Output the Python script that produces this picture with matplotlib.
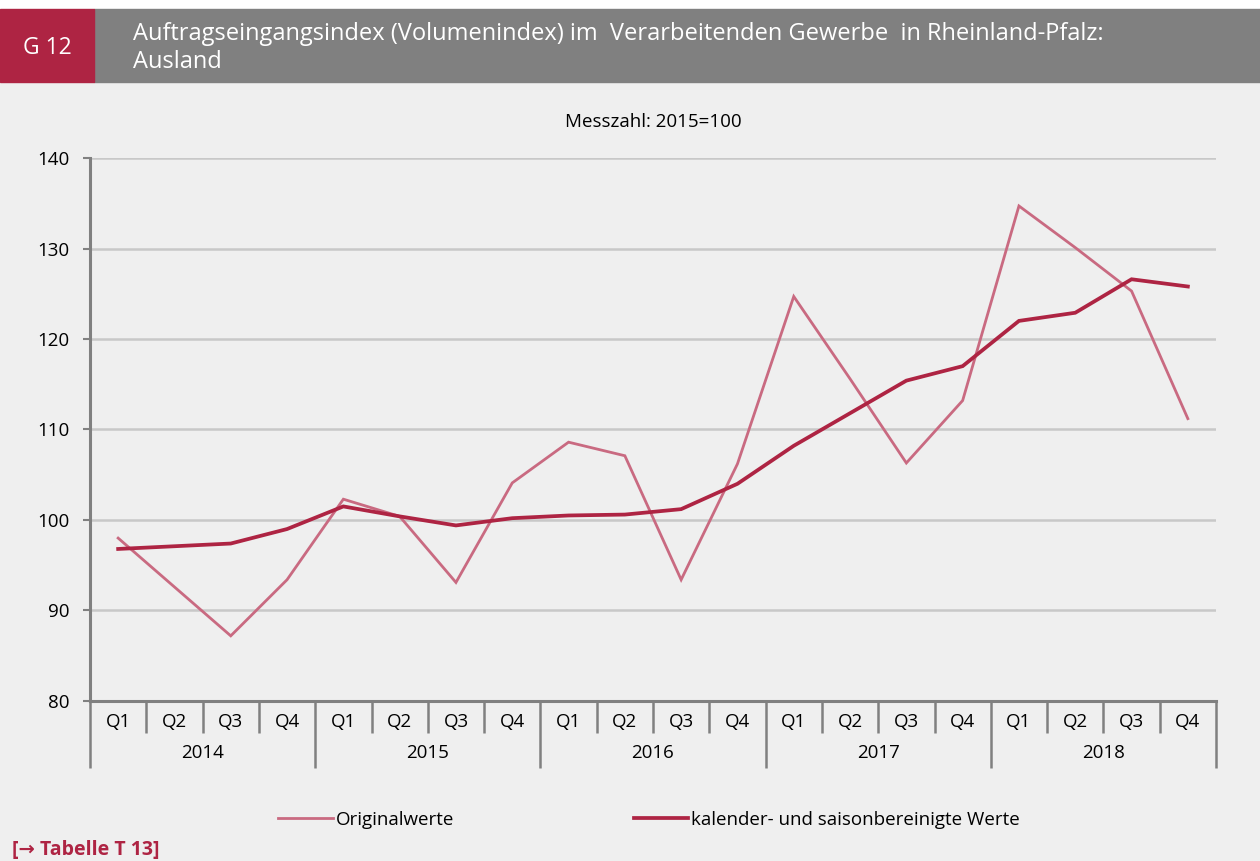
import numpy as np
import matplotlib.pyplot as plt
from matplotlib.lines import Line2D
from matplotlib.patches import Rectangle

plt.rcParams['font.family'] = ['Open Sans', 'DejaVu Sans']

# Daten (Messzahl 2015=100)
jahre = ['2014', '2015', '2016', '2017', '2018']
quartale = ['Q1', 'Q2', 'Q3', 'Q4']
originalwerte = [98.0, 92.6, 87.2, 93.4,
                 102.3, 100.4, 93.1, 104.1,
                 108.6, 107.1, 93.4, 106.2,
                 124.7, 115.6, 106.3, 113.2,
                 134.7, 130.1, 125.3, 111.2]
bereinigt = [96.8, 97.1, 97.4, 99.0,
             101.5, 100.4, 99.4, 100.2,
             100.5, 100.6, 101.2, 104.0,
             108.2, 111.8, 115.4, 117.0,
             122.0, 122.9, 126.6, 125.8]

rot = '#ae2443'
rosa = '#c96a81'
grau = '#808080'
hg = '#efefef'

fig = plt.figure(figsize=(12.6, 8.61), dpi=100, facecolor=hg)

# Kopfzeile
fig.patches.append(Rectangle((0, 1 - 9 / 861), 1, 9 / 861, transform=fig.transFigure,
                             color='white', zorder=0))
fig.patches.append(Rectangle((94 / 1260, 1 - 82 / 861), 1 - 94 / 1260, 73 / 861,
                             transform=fig.transFigure, color=grau, zorder=0))
fig.patches.append(Rectangle((0, 1 - 82 / 861), 94 / 1260, 73 / 861,
                             transform=fig.transFigure, color=rot, zorder=0))
fig.text(47 / 1260, 1 - 48 / 861, 'G 12', color='white', fontsize=16.5,
         ha='center', va='center')
fig.text(133 / 1260, 1 - 48 / 861,
         'Auftragseingangsindex (Volumenindex) im  Verarbeitenden Gewerbe  in Rheinland-Pfalz:\nAusland',
         color='white', fontsize=17, ha='left', va='center', linespacing=1.2)
fig.text(653 / 1260, 1 - 122 / 861, 'Messzahl: 2015=100', fontsize=13.5,
         ha='center', va='center')

ax = fig.add_axes([90 / 1260, 1 - 701 / 861, 1126 / 1260, 543 / 861])
ax.set_facecolor(hg)

x = np.arange(len(originalwerte))
ax.plot(x, originalwerte, color=rosa, lw=2.0, solid_joinstyle='miter', zorder=3)
ax.plot(x, bereinigt, color=rot, lw=2.7, solid_joinstyle='miter', zorder=4)

ax.set_xlim(-0.5, len(x) - 0.5)
ax.set_ylim(80, 140)
ax.set_yticks(np.arange(80, 141, 10))
ax.yaxis.grid(True, color='#c8c8c8', lw=1.8)
ax.set_axisbelow(True)
ax.tick_params(axis='y', length=5, width=1.5, color=grau, labelsize=13.5, pad=10)

for s in ['top', 'right']:
    ax.spines[s].set_visible(False)
for s in ['left', 'bottom']:
    ax.spines[s].set_color(grau)
    ax.spines[s].set_linewidth(2.2)

# Trennstriche: lange an Jahresgrenzen, kurze an Quartalsgrenzen
grenzen = np.arange(-0.5, len(x), 1)
jahr_grenzen = grenzen[::4]
q_grenzen = [g for g in grenzen if g not in jahr_grenzen]
ax.set_xticks(jahr_grenzen)
ax.set_xticks(q_grenzen, minor=True)
ax.tick_params(axis='x', which='major', length=48, width=1.8, color=grau,
               labelbottom=False)
ax.tick_params(axis='x', which='minor', length=23, width=1.8, color=grau,
               labelbottom=False)

trans = ax.get_xaxis_transform()
for i in x:
    ax.text(i, -0.039, quartale[i % 4], transform=trans, ha='center', va='center',
            fontsize=13.5)
for j, jahr in enumerate(jahre):
    ax.text(j * 4 + 1.5, -0.095, jahr, transform=trans, ha='center', va='center',
            fontsize=13.5)

handles = [Line2D([0], [0], color=rosa, lw=2.0, label='Originalwerte'),
           Line2D([0], [0], color=rot, lw=2.7, label='kalender- und saisonbereinigte Werte')]
fig.legend(handles=handles, loc='center', bbox_to_anchor=(649 / 1260, 1 - 820 / 861),
           ncol=2, frameon=False, fontsize=13.5, handlelength=2.9, handletextpad=0.15,
           columnspacing=9.6)

fig.text(12 / 1260, 1 - 850 / 861, '[\u2192 Tabelle T 13]', color=rot, fontsize=14,
         fontweight='bold', ha='left', va='center')

fig.savefig('out.png', dpi=100, facecolor=hg)
